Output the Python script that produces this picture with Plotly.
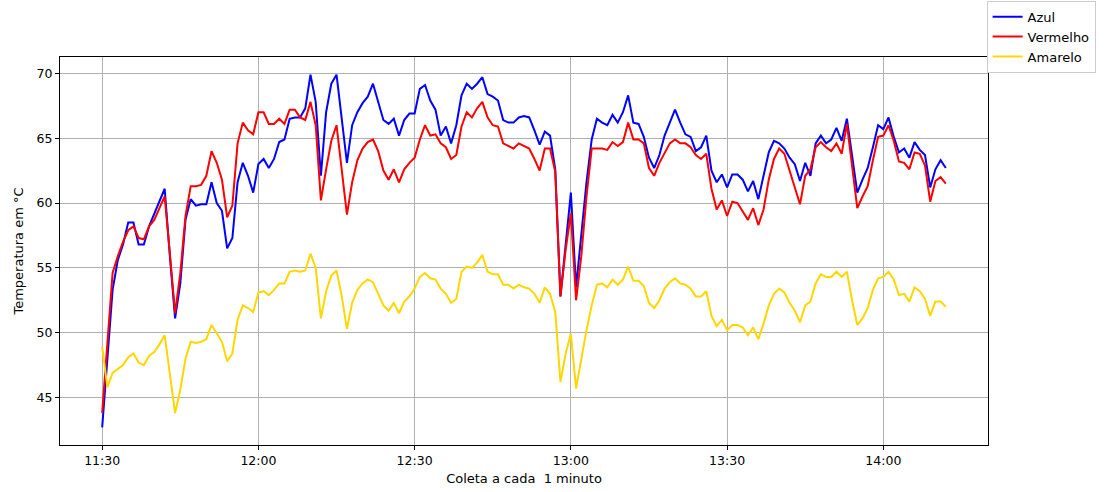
import pandas as pd
import plotly.graph_objects as go

# Leituras de temperatura (°C), uma por minuto a partir das 11:30
inicio = "2023-01-01 11:30"

azul = [
    42.7, 47.8, 53.3, 55.6, 56.8, 58.5, 58.5, 56.8, 56.8, 58.2,
    59.2, 60.2, 61.1, 55.9, 51.1, 53.8, 58.7, 60.3, 59.8, 59.9,
    59.9, 61.6, 60.0, 59.4, 56.5, 57.3, 61.6, 63.1, 62.1, 60.8,
    63.0, 63.4, 62.7, 63.4, 64.7, 64.9, 66.5, 66.6, 66.6, 67.3,
    69.9, 67.8, 62.1, 67.0, 69.2, 69.9, 66.5, 63.1, 66.0, 67.0,
    67.7, 68.2, 69.2, 67.8, 66.4, 66.1, 66.5, 65.2, 66.4, 66.9,
    66.9, 68.8, 69.1, 67.9, 67.2, 65.2, 65.9, 64.6, 66.0, 68.3,
    69.2, 68.8, 69.2, 69.7, 68.4, 68.2, 67.9, 66.4, 66.2, 66.2,
    66.6, 66.7, 66.6, 65.6, 64.5, 65.5, 65.2, 62.6, 52.8, 56.8,
    60.8, 53.5, 57.5, 61.6, 64.9, 66.5, 66.2, 66.0, 66.8, 66.2,
    67.0, 68.3, 66.2, 66.1, 65.1, 63.5, 62.7, 63.7, 65.2, 66.2,
    67.2, 66.2, 65.3, 65.1, 64.0, 64.3, 65.2, 62.5, 61.6, 62.2,
    61.2, 62.2, 62.2, 61.8, 60.9, 61.7, 60.3, 62.1, 63.9, 64.8,
    64.6, 64.2, 63.5, 63.0, 61.7, 63.1, 62.1, 64.6, 65.2, 64.6,
    64.9, 65.8, 64.8, 66.5, 63.7, 60.8, 61.8, 62.7, 64.3, 66.0,
    65.7, 66.6, 65.1, 63.9, 64.2, 63.5, 64.7, 64.1, 63.7, 61.2,
    62.6, 63.3, 62.7,
]

vermelho = [
    43.8, 49.5, 54.6, 55.9, 57.0, 57.9, 58.2, 57.3, 57.2, 58.2,
    58.7, 59.6, 60.5, 56.1, 51.5, 54.6, 59.0, 61.3, 61.3, 61.4,
    62.1, 64.0, 63.1, 61.8, 58.9, 59.8, 64.6, 66.2, 65.6, 65.3,
    67.0, 67.0, 66.1, 66.1, 66.5, 66.1, 67.2, 67.2, 66.6, 66.4,
    67.8, 66.0, 60.2, 62.6, 64.8, 66.0, 62.6, 59.1, 61.6, 63.3,
    64.2, 64.7, 64.9, 64.0, 62.5, 61.8, 62.6, 61.6, 62.6, 63.1,
    63.5, 64.9, 66.0, 65.2, 65.3, 64.6, 64.3, 63.4, 63.7, 65.9,
    67.0, 66.6, 67.3, 67.8, 66.6, 66.0, 65.9, 64.6, 64.4, 64.2,
    64.6, 64.4, 64.2, 63.4, 62.5, 64.2, 64.2, 62.4, 52.8, 56.4,
    59.2, 52.5, 55.9, 60.5, 64.2, 64.2, 64.2, 64.1, 64.7, 64.4,
    64.7, 66.2, 64.9, 64.9, 64.6, 62.7, 62.1, 63.1, 63.9, 64.6,
    64.9, 64.6, 64.6, 64.3, 63.7, 63.4, 63.8, 61.1, 59.5, 60.2,
    59.0, 60.1, 60.0, 59.4, 58.7, 59.6, 58.3, 59.5, 61.8, 63.4,
    64.2, 63.8, 62.5, 61.1, 59.9, 62.1, 62.6, 64.3, 64.7, 64.3,
    64.0, 64.6, 63.8, 66.1, 62.6, 59.6, 60.5, 61.3, 63.3, 65.1,
    65.2, 66.0, 64.8, 63.2, 63.1, 62.6, 63.9, 63.8, 62.9, 60.1,
    61.7, 62.0, 61.5,
]

amarelo = [
    48.9, 45.8, 46.9, 47.2, 47.5, 48.1, 48.4, 47.7, 47.5, 48.2,
    48.5, 49.1, 49.8, 46.8, 43.8, 45.6, 48.0, 49.3, 49.2, 49.3,
    49.5, 50.6, 49.9, 49.3, 47.8, 48.4, 51.0, 52.1, 51.9, 51.6,
    53.1, 53.2, 52.9, 53.3, 53.8, 53.8, 54.7, 54.8, 54.7, 54.8,
    56.1, 55.0, 51.1, 53.2, 54.4, 54.8, 52.8, 50.3, 52.3, 53.3,
    53.8, 54.1, 53.9, 53.0, 52.1, 51.7, 52.3, 51.5, 52.4, 52.8,
    53.4, 54.3, 54.6, 54.2, 54.1, 53.4, 53.0, 52.3, 52.6, 54.7,
    55.1, 55.0, 55.4, 56.0, 54.7, 54.5, 54.5, 53.7, 53.7, 53.4,
    53.7, 53.5, 53.4, 53.0, 52.3, 53.5, 53.0, 51.6, 46.2, 48.4,
    49.9, 45.7, 48.1, 50.2, 52.1, 53.7, 53.8, 53.5, 54.1, 53.7,
    54.1, 55.1, 54.0, 54.0, 53.6, 52.3, 51.9, 52.5, 53.4, 53.9,
    54.2, 53.8, 53.7, 53.4, 52.8, 52.8, 53.2, 51.3, 50.5, 51.0,
    50.2, 50.6, 50.6, 50.4, 49.8, 50.4, 49.5, 50.7, 52.1, 53.0,
    53.4, 53.1, 52.3, 51.7, 50.8, 52.1, 52.4, 53.8, 54.5, 54.3,
    54.3, 54.7, 54.3, 54.7, 52.5, 50.6, 51.1, 51.9, 53.3, 54.2,
    54.3, 54.7, 54.1, 52.9, 53.0, 52.4, 53.5, 53.2, 52.6, 51.3,
    52.4, 52.4, 52.0,
]

horarios = pd.date_range(inicio, periods=len(azul), freq="min")

series = [
    ("Azul", azul, "#0000ff"),
    ("Vermelho", vermelho, "#ff0000"),
    ("Amarelo", amarelo, "#ffd700"),
]

fig = go.Figure()
for nome, valores, cor in series:
    fig.add_trace(go.Scatter(
        x=horarios, y=valores, name=nome, mode="lines",
        line=dict(color=cor, width=2),
    ))

# margem de 5% nos dois eixos
span = horarios[-1] - horarios[0]
pad = span * 0.05
ymin, ymax = min(azul + vermelho + amarelo), max(azul + vermelho + amarelo)
ypad = (ymax - ymin) * 0.05

fonte = dict(family="DejaVu Sans", size=12.5, color="#000000")

fig.update_layout(
    width=1106, height=492,
    margin=dict(l=60, r=118, t=57, b=47, autoexpand=False),
    paper_bgcolor="white", plot_bgcolor="white",
    font=fonte,
    showlegend=True,
    legend=dict(
        x=0.9985, xanchor="left", y=1.145, yanchor="top",
        bgcolor="white", bordercolor="#cccccc", borderwidth=1,
        font=dict(family="DejaVu Sans", size=13, color="#000000"),
        tracegroupgap=0, itemwidth=30,
    ),
)

fig.update_xaxes(
    range=[horarios[0] - pad, horarios[-1] + pad],
    tickformat="%H:%M", dtick=30 * 60 * 1000,
    tick0=horarios[0],
    showgrid=True, gridcolor="#b0b0b0", gridwidth=1,
    showline=True, linecolor="black", linewidth=1, mirror=True,
    ticks="outside", ticklen=4, tickcolor="black",
    title=dict(text="Coleta a cada  1 minuto", standoff=6,
               font=dict(family="DejaVu Sans", size=13)),
    zeroline=False,
)
fig.update_yaxes(
    range=[ymin - ypad, ymax + ypad],
    tick0=45, dtick=5,
    showgrid=True, gridcolor="#b0b0b0", gridwidth=1,
    showline=True, linecolor="black", linewidth=1, mirror=True,
    ticks="outside", ticklen=4, tickcolor="black",
    title=dict(text="Temperatura em °C", standoff=10,
               font=dict(family="DejaVu Sans", size=13)),
    zeroline=False,
)

fig.write_html("out.html")
